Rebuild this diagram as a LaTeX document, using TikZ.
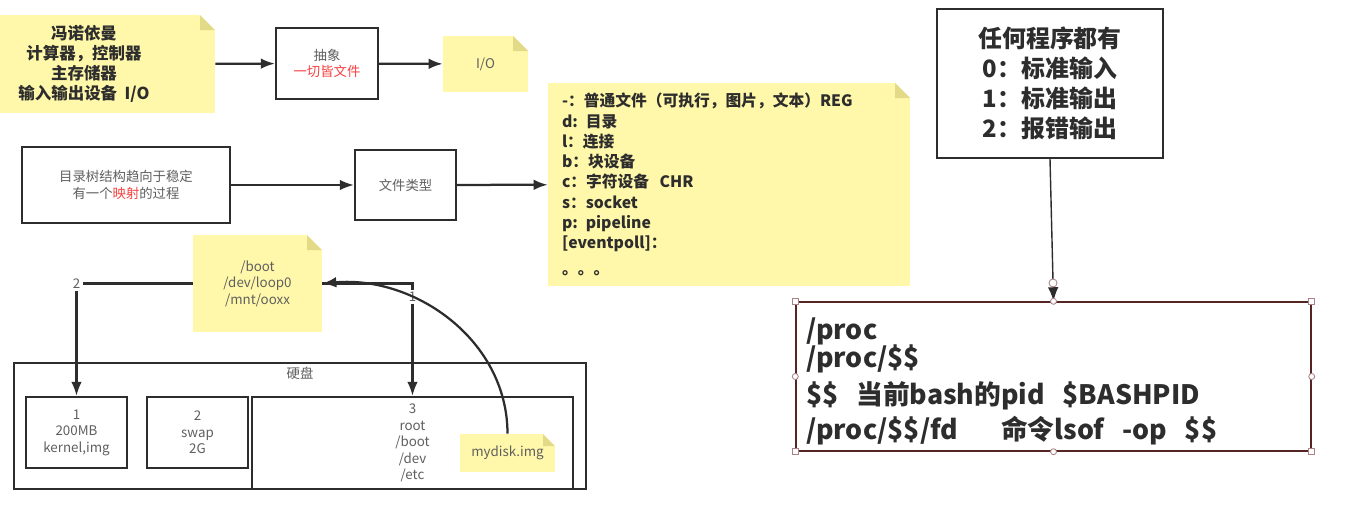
\documentclass[tikz,border=0pt]{standalone}
\usepackage{fontspec}
\setmainfont{Noto Sans CJK SC}
\usetikzlibrary{arrows.meta}
\newdimen\pxu
\pxu=0.025cm
\definecolor{notey}{RGB}{255,248,170}
\definecolor{notefold}{RGB}{226,218,135}
\definecolor{linec}{RGB}{45,45,45}
\definecolor{txtgray}{RGB}{95,95,95}
\definecolor{markred}{RGB}{245,65,65}
\definecolor{handlec}{RGB}{170,130,135}
\tikzset{
  fold/.style={path picture={
    \fill[white] ([xshift=-#1]path picture bounding box.north east) -- (path picture bounding box.north east) -- ([yshift=-#1]path picture bounding box.north east) -- cycle;
    \fill[notefold] ([xshift=-#1]path picture bounding box.north east) -- ([xshift=-#1,yshift=-#1]path picture bounding box.north east) -- ([yshift=-#1]path picture bounding box.north east) -- cycle;}},
  note/.style={fill=notey, inner sep=0pt, align=center, fold=#1},
  note/.default=15\pxu,
  box/.style={draw=linec, line width=1.5pt, fill=white, inner sep=0pt, align=center},
  small/.style={font=\fontsize{9.5}{11.7}\selectfont, text=txtgray},
  link/.style={draw=linec, line width=1.6pt},
  arr/.style={link, -{Latex[length=10pt,width=7.5pt]}},
  handle/.style={draw=handlec, fill=white, line width=0.6pt, inner sep=0pt, minimum size=6\pxu}
}
\begin{document}
\begin{tikzpicture}[x=0.025cm, y=-0.025cm]
\useasboundingbox (0,0) rectangle (1360,509);

% top row: von Neumann -> abstraction -> I/O
\node at (84,64) (neumann) [note, minimum width=262\pxu, minimum height=98\pxu,
  font=\bfseries\fontsize{11.7}{14.4}\selectfont, text=linec]
  {冯诺依曼\\计算器，控制器\\主存储器\\输入输出设备\ \ I/O};
\node at (327,63.5) (abstract) [box, small, minimum width=102\pxu, minimum height=71\pxu]
  {抽象\\\textcolor{markred}{一切皆文件}};
\node at (485.5,64) (io) [note, small, minimum width=85\pxu, minimum height=56\pxu] {I/O};
\draw [arr] (neumann) -- (abstract);
\draw [arr] (abstract) -- (io);

% second row: tree -> file types -> list
\node at (126,185) (tree) [box, small, minimum width=208\pxu, minimum height=76\pxu]
  {目录树结构趋向于稳定\\有一个\textcolor{markred}{映射}的过程};
\node at (405.5,185) (ftype) [box, small, minimum width=101\pxu, minimum height=70\pxu] {文件类型};
\node at (729,184.5) (typelist) [note, inner xsep=14\pxu, minimum height=203\pxu,
  text width=334\pxu, align=left, font=\bfseries\fontsize{11.2}{14.4}\selectfont, text=linec]
  {-：普通文件（可执行，图片，文本）REG\\
   d: 目录\\
   l：连接\\
   b：块设备\\
   c：字符设备\ \ CHR\\
   s：socket\\
   p: pipeline\\
   {[}eventpoll{]}：\\[4pt]
   。。。};
\draw [arr] (tree) -- (ftype);
\draw [arr] (ftype) -- (typelist);

% right side: fd of every process
\node at (1050,83.5) (stdfd) [box, minimum width=226\pxu, minimum height=149\pxu,
  font=\bfseries\fontsize{17}{21.2}\selectfont, text=linec]
  {任何程序都有\\0：标准输入\\1：标准输出\\2：报错输出};
\node at (1053.5,376.5) (proc) [box, line width=1pt, draw=linec!80!red, minimum width=515\pxu, minimum height=149\pxu,
  text width=495\pxu, align=left, font=\bfseries\fontsize{19}{20}\selectfont, text=linec]
  {\lineskiplimit=-100pt\lineskip=0pt
   \rule{0pt}{22.4pt}/proc\\
   /proc/\$\$\\[6.4pt]
   \$\$\ \ 当前bash的pid\ \ \$BASHPID\\[3.6pt]
   /proc/\$\$/fd\hspace{1.6em}命令lsof\ \ -op\ \ \$\$};
\draw [arr, line width=1pt] (stdfd.south) -- (proc.north);
% selection handles
\foreach \a in {north west, north east, south west, south east}
  \node (h-\a) [handle, rectangle] at (proc.\a) {};
\foreach \a in {north, south, east, west}
  \node (h-\a) [handle, circle] at (proc.\a) {};
\node (h-link) [handle, circle, minimum size=8\pxu] at (1053,283) {};

% disk layout
\node at (257.5,283.5) (mount) [note, small, minimum width=129\pxu, minimum height=97\pxu]
  {/boot\\/dev/loop0\\/mnt/ooxx};
\node at (300,426) (disk) [box, minimum width=572\pxu, minimum height=126\pxu] {};
\node at (300,373) (disklbl) [small] {硬盘};
\node at (76.5,432.5) (part1) [box, small, minimum width=101\pxu, minimum height=71\pxu]
  {1\\200MB\\kernel,img};
\node at (197.5,432.5) (part2) [box, small, minimum width=101\pxu, minimum height=71\pxu]
  {2\\swap\\2G};
\node at (412.5,443) (part3) [box, small, minimum width=321\pxu, minimum height=92\pxu]
  {3\\root\\/boot\\/dev\\/etc};
\node at (507.5,453) (mydisk) [note=12\pxu, small, minimum width=95\pxu, minimum height=38\pxu] {mydisk.img};
% mount links
\node at (76.5,283.5) (lbl2) [small, inner sep=1.5pt] {2};
\node at (412.5,297) (lbl1) [small, inner sep=1.5pt] {1};
\draw [link] (mount.west) -- (lbl2.east);
\draw [arr] (lbl2.south) -- (part1.north);
\draw [link] (mount.east) -| (lbl1.north);
\draw [arr] (lbl1.south) -- (part3.north);
\draw [arr] (mydisk.north) to [out=90, in=5] (mount.east);
\end{tikzpicture}
\end{document}
